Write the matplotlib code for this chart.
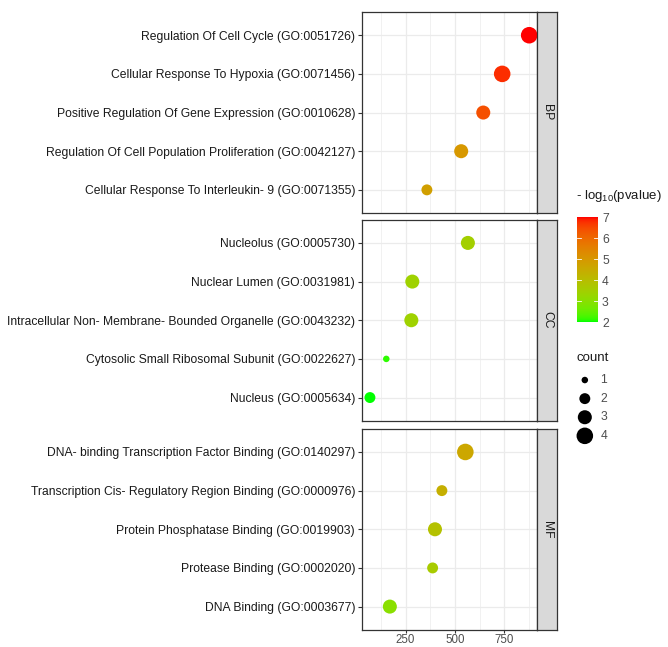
import numpy as np
import matplotlib
matplotlib.use("Agg")
import matplotlib.pyplot as plt
from matplotlib.colors import ListedColormap, Normalize

plt.rcParams['font.family'] = ['Liberation Sans', 'DejaVu Sans']

# GO terms per ontology, top to bottom
bp_terms = ["Regulation Of Cell Cycle (GO:0051726)",
            "Cellular Response To Hypoxia (GO:0071456)",
            "Positive Regulation Of Gene Expression (GO:0010628)",
            "Regulation Of Cell Population Proliferation (GO:0042127)",
            "Cellular Response To Interleukin- 9 (GO:0071355)"]
bp_score = [877, 740, 644, 532, 358]
bp_logp = [7.0, 6.8, 6.4, 5.0, 4.8]
bp_count = [4, 4, 3, 3, 2]

cc_terms = ["Nucleolus (GO:0005730)",
            "Nuclear Lumen (GO:0031981)",
            "Intracellular Non- Membrane- Bounded Organelle (GO:0043232)",
            "Cytosolic Small Ribosomal Subunit (GO:0022627)",
            "Nucleus (GO:0005634)"]
cc_score = [566, 284, 279, 152, 69]
cc_logp = [3.5, 3.4, 3.4, 2.1, 2.0]
cc_count = [3, 3, 3, 1, 2]

mf_terms = ["DNA- binding Transcription Factor Binding (GO:0140297)",
            "Transcription Cis- Regulatory Region Binding (GO:0000976)",
            "Protein Phosphatase Binding (GO:0019903)",
            "Protease Binding (GO:0002020)",
            "DNA Binding (GO:0003677)"]
mf_score = [553, 434, 399, 387, 170]
mf_logp = [4.6, 4.4, 3.9, 3.6, 3.0]
mf_count = [4, 2, 3, 2, 3]

panels = [("BP", bp_terms, bp_score, bp_logp, bp_count),
          ("CC", cc_terms, cc_score, cc_logp, cc_count),
          ("MF", mf_terms, mf_score, mf_logp, mf_count)]


# ggplot-like green -> red gradient, interpolated in Lab space
def srgb_to_lab(rgb):
    c = np.asarray(rgb, float)
    c = np.where(c > 0.04045, ((c + 0.055) / 1.055) ** 2.4, c / 12.92)
    m = np.array([[0.4124, 0.3576, 0.1805],
                  [0.2126, 0.7152, 0.0722],
                  [0.0193, 0.1192, 0.9505]])
    xyz = m @ c / np.array([0.95047, 1.0, 1.08883])
    f = np.where(xyz > 0.008856, np.cbrt(xyz), 7.787 * xyz + 16 / 116)
    return np.array([116 * f[1] - 16, 500 * (f[0] - f[1]), 200 * (f[1] - f[2])])


def lab_to_srgb(lab):
    L, a, b = lab
    fy = (L + 16) / 116
    f = np.array([fy + a / 500, fy, fy - b / 200])
    xyz = np.where(f ** 3 > 0.008856, f ** 3, (f - 16 / 116) / 7.787)
    xyz = xyz * np.array([0.95047, 1.0, 1.08883])
    minv = np.array([[3.2406, -1.5372, -0.4986],
                     [-0.9689, 1.8758, 0.0415],
                     [0.0557, -0.2040, 1.0570]])
    c = minv @ xyz
    c = np.clip(c, 0, 1)
    c = np.where(c > 0.0031308, 1.055 * c ** (1 / 2.4) - 0.055, 12.92 * c)
    return np.clip(c, 0, 1)


lo, hi = srgb_to_lab([0, 1, 0]), srgb_to_lab([1, 0, 0])
cmap = ListedColormap([lab_to_srgb(lo + t * (hi - lo)) for t in np.linspace(0, 1, 256)])
norm = Normalize(2, 7)


def size_of(cnt):
    return 40 * np.asarray(cnt, float) - 18


fig = plt.figure(figsize=(6.68, 6.47), dpi=100)

left, width = 0.542, 0.262
bottoms = [0.6707, 0.3497, 0.0266]
height = 0.3107
xmin, xmax = 29, 917
grid_col = "#EBEBEB"
text_col = "#4D4D4D"
fs = 8.7

for (name, terms, score, logp, cnt), b in zip(panels, bottoms):
    ax = fig.add_axes([left, b, width, height])
    ypos = np.arange(len(terms))[::-1]
    ax.set_xlim(xmin, xmax)
    ax.set_ylim(-0.6, len(terms) - 0.4)
    ax.set_xticks([250, 500, 750])
    ax.set_xticks([125, 375, 625, 875], minor=True)
    ax.set_yticks(ypos)
    ax.set_yticklabels(terms, fontsize=fs, color="#1A1A1A")
    ax.grid(True, which="major", color=grid_col, lw=0.9)
    ax.grid(True, which="minor", axis="x", color=grid_col, lw=0.5)
    ax.set_axisbelow(True)
    ax.tick_params(axis="both", which="major", length=3, color="#333333", width=0.8)
    ax.tick_params(axis="y", pad=2)
    ax.tick_params(axis="x", which="minor", length=0)
    ax.tick_params(axis="x", labelsize=8.3, labelcolor=text_col, pad=0.5,
                   length=2.5)
    if b != bottoms[-1]:
        ax.tick_params(axis="x", labelbottom=False, length=0)
    for s in ax.spines.values():
        s.set_color("#333333")
        s.set_linewidth(0.9)
    ax.scatter(score, ypos, s=size_of(cnt), c=logp, cmap=cmap, norm=norm,
               linewidths=0, zorder=3)

    # facet strip on the right
    sax = fig.add_axes([left + width, b, 0.030, height])
    sax.set_facecolor("#D9D9D9")
    sax.set_xticks([])
    sax.set_yticks([])
    for s in sax.spines.values():
        s.set_color("#333333")
        s.set_linewidth(0.9)
    sax.text(0.5, 0.5, name, rotation=-90, ha="center", va="center",
             fontsize=fs, color="#1A1A1A", transform=sax.transAxes)

# colour legend
cax = fig.add_axes([0.864, 0.5023, 0.031, 0.162])
grad = np.linspace(2, 7, 200).reshape(-1, 1)
cax.imshow(grad, aspect="auto", cmap=cmap, norm=norm, origin="lower",
           extent=[0, 1, 2, 7])
for v in [3, 4, 5, 6]:
    cax.plot([0, 0.2], [v, v], color="white", lw=0.6)
    cax.plot([0.8, 1], [v, v], color="white", lw=0.6)
cax.set_xlim(0, 1)
cax.set_ylim(2, 7)
cax.set_xticks([])
cax.yaxis.tick_right()
cax.set_yticks([2, 3, 4, 5, 6, 7])
cax.tick_params(axis="y", length=0, labelsize=fs, labelcolor=text_col, pad=3)
for s in cax.spines.values():
    s.set_visible(False)
fig.text(0.863, 0.685, r"- log$_{\mathregular{10}}$(pvalue)", fontsize=9.5,
         color="#1A1A1A", ha="left", va="bottom")

# size legend
fig.text(0.863, 0.437, "count", fontsize=9.5, color="#1A1A1A",
         ha="left", va="bottom")
lax = fig.add_axes([0.86, 0.312, 0.08, 0.115])
counts_leg = [1, 2, 3, 4]
lax.scatter([0] * 4, counts_leg, s=size_of(counts_leg), color="black", linewidths=0)
for c in counts_leg:
    lax.text(0.9, c, str(c), fontsize=fs, color=text_col, va="center", ha="left")
lax.set_xlim(-0.6, 2.5)
lax.set_ylim(4.5, 0.5)
lax.axis("off")

fig.savefig("out.png", dpi=100)
